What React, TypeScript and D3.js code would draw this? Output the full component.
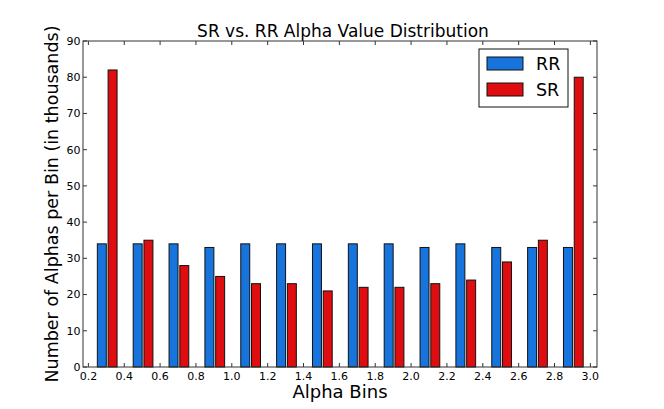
import React from 'react';
import * as d3 from 'd3';

// left edge of each RR bar (alpha value)
const binStarts = [0.25, 0.45, 0.65, 0.85, 1.05, 1.25, 1.45, 1.65, 1.85, 2.05, 2.25, 2.45, 2.65, 2.85];
const rrValues = [34, 34, 34, 33, 34, 34, 34, 34, 34, 33, 34, 33, 33, 33];
const srValues = [82, 35, 28, 25, 23, 23, 21, 22, 22, 23, 24, 29, 35, 80];
const xTicks = [0.2, 0.4, 0.6, 0.8, 1.0, 1.2, 1.4, 1.6, 1.8, 2.0, 2.2, 2.4, 2.6, 2.8, 3.0];
const yTicks = [0, 10, 20, 30, 40, 50, 60, 70, 80, 90];

const BAR_W = 0.05;
const SR_OFFSET = 0.06;
const RR_COLOR = '#1874dd';
const SR_COLOR = '#e00d10';

const W = 664;
const H = 409;
const margin = { top: 41, right: 67, bottom: 42, left: 83 };

const App: React.FC = () => {
  const innerW = W - margin.left - margin.right;
  const innerH = H - margin.top - margin.bottom;

  const x = d3.scaleLinear().domain([0.17, 3.037]).range([0, innerW]);
  const y = d3.scaleLinear().domain([0, 90]).range([innerH, 0]);

  const font = 'DejaVu Sans, sans-serif';
  const tickLen = 4;

  return (
    <div style={{ position: 'absolute', left: 0, top: 0 }}>
      <svg width={W} height={H} style={{ display: 'block', background: '#fff' }}>
        <text x={margin.left + innerW / 2 + 3} y={37} textAnchor="middle" fontFamily={font} fontSize={17}>
          SR vs. RR Alpha Value Distribution
        </text>
        <g transform={`translate(${margin.left},${margin.top})`}>
          {/* bars */}
          {binStarts.map((b, i) => (
            <g key={i}>
              <rect
                x={x(b)}
                y={y(rrValues[i])}
                width={x(b + BAR_W) - x(b)}
                height={innerH - y(rrValues[i])}
                fill={RR_COLOR}
                stroke="#111"
                strokeWidth={1}
              />
              <rect
                x={x(b + SR_OFFSET)}
                y={y(srValues[i])}
                width={x(b + SR_OFFSET + BAR_W) - x(b + SR_OFFSET)}
                height={innerH - y(srValues[i])}
                fill={SR_COLOR}
                stroke="#111"
                strokeWidth={1}
              />
            </g>
          ))}

          {/* x ticks, bottom and top */}
          {xTicks.map(t => (
            <g key={'x' + t}>
              <line x1={x(t)} x2={x(t)} y1={innerH} y2={innerH - tickLen} stroke="#333" />
              <line x1={x(t)} x2={x(t)} y1={0} y2={tickLen} stroke="#333" />
              <text x={x(t)} y={innerH + 12.5} textAnchor="middle" fontFamily={font} fontSize={11}>
                {t.toFixed(1)}
              </text>
            </g>
          ))}

          {/* y ticks, left and right */}
          {yTicks.map(t => (
            <g key={'y' + t}>
              <line x1={0} x2={tickLen} y1={y(t)} y2={y(t)} stroke="#333" />
              <line x1={innerW} x2={innerW - tickLen} y1={y(t)} y2={y(t)} stroke="#333" />
              <text x={-2.5} y={y(t)} dy="0.35em" textAnchor="end" fontFamily={font} fontSize={11}>
                {t}
              </text>
            </g>
          ))}

          {/* frame */}
          <rect x={0} y={0} width={innerW} height={innerH} fill="none" stroke="#333" strokeWidth={1} />

          {/* legend */}
          <g transform={`translate(${innerW - 118},8)`}>
            <rect x={0} y={0} width={89} height={58} fill="#fff" stroke="#111" strokeWidth={1} />
            <rect x={8} y={8} width={36} height={13} fill={RR_COLOR} stroke="#111" />
            <text x={57} y={21} fontFamily={font} fontSize={17.5}>RR</text>
            <rect x={8} y={34} width={36} height={13} fill={SR_COLOR} stroke="#111" />
            <text x={57} y={47} fontFamily={font} fontSize={17.5}>SR</text>
          </g>
        </g>

        <text
          transform={`translate(57.5,${margin.top + innerH / 2}) rotate(-90)`}
          textAnchor="middle"
          fontFamily={font}
          fontSize={17.5}
        >
          Number of Alphas per Bin (in thousands)
        </text>
        <text x={margin.left + innerW / 2} y={398} textAnchor="middle" fontFamily={font} fontSize={18}>
          Alpha Bins
        </text>
      </svg>
    </div>
  );
};

export default App;
